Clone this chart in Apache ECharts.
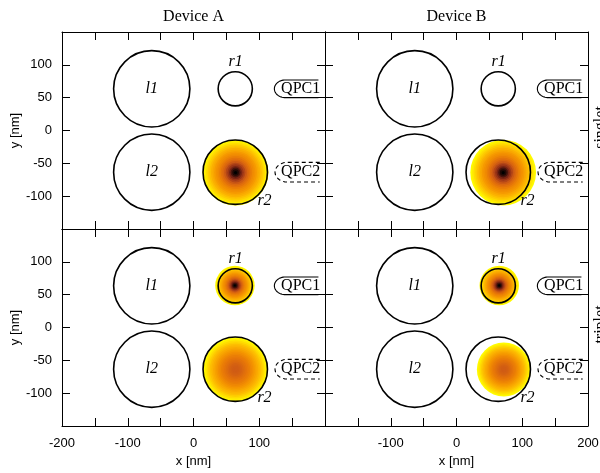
<!DOCTYPE html>
<html><head><meta charset="utf-8">
<script src="https://cdn.jsdelivr.net/npm/echarts@6/dist/echarts.min.js"></script>
<style>html,body{margin:0;padding:0;background:#fff}#chart{width:600px;height:473px}</style>
</head><body><div id="chart"></div>
<script>
// ---------- data ----------
const deviceTitles = ['Device A', 'Device B'];
const stateLabels = ['singlet', 'triplet'];
const xRange = [-200, 200];
const yRange = [-150, 150];
const tickStep = 50;
const labelStep = 100;

const dotNames = ['l1', 'l2', 'r1', 'r2'];
const dotX = [-63.5, -63.5, 63.5, 63.5];
const dotY = [63.5, -63.5, 63.5, -63.5];
const dotR = [58, 58, 26, 49];
const dotLabelX = [-63.5, -63.5, 64, 108];
const dotLabelY = [63.5, -63.5, 104, -107];

const qpcNames = ['QPC1', 'QPC2'];
const qpcY = [63.5, -63.5];
const qpcLeft = [123, 124];
const qpcRight = [190, 192];
const qpcHalfH = [13.5, 15];
const qpcTextX = [163, 163];
const qpcDashed = [0, 1];

// density blobs (panel: 0 top-left, 1 top-right, 2 bottom-left, 3 bottom-right)
const blobPanel = [0, 1, 2, 2, 3, 3];
const blobX = [64, 71, 63, 64, 65, 72];
const blobY = [-64, -64, 64, -64, 64, -64];
const blobR = [50, 50, 30, 49, 30, 41];
const blobProfile = [0, 0, 0, 1, 0, 1];
// radial profile: outer edge of each band (fraction of blob radius) and density in it
const bandEdge = [0.05, 0.1, 0.15, 0.2, 0.25, 0.3, 0.35, 0.4, 0.45, 0.5,
                  0.55, 0.6, 0.65, 0.7, 0.75, 0.8, 0.85, 0.9, 0.95, 1.0];
const peakedProfile = [1.0, 0.95, 0.88, 0.8, 0.73, 0.67, 0.61, 0.56, 0.52, 0.48,
                       0.44, 0.41, 0.38, 0.34, 0.31, 0.27, 0.23, 0.19, 0.15, 0.11];
const broadProfile = [0.6, 0.6, 0.59, 0.58, 0.56, 0.54, 0.52, 0.5, 0.48, 0.45,
                      0.42, 0.39, 0.36, 0.33, 0.3, 0.27, 0.23, 0.19, 0.15, 0.11];
const profiles = [peakedProfile, broadProfile];
const densityColors = ['#ffffe0', '#ffff00', '#ffd800', '#fcb400', '#f49400', '#e87808',
                       '#d05c14', '#a83c18', '#782414', '#3c100a', '#000000'];

// ---------- layout ----------
const gridLeft = [62, 325];
const gridTop = [32, 229];
const gridW = 263, gridH = 197;
const serif = '"Liberation Serif", "Times New Roman", serif';
const sans = '"Liberation Sans", Arial, sans-serif';

const grids = [], xAxes = [], yAxes = [], series = [], blobSeries = [];

function axisBase(extra) {
  return Object.assign({
    type: 'value',
    axisLine: { show: true, onZero: false, lineStyle: { color: '#000', width: 1 } },
    axisTick: { show: true, inside: true, length: 8, lineStyle: { color: '#000', width: 1 } },
    splitLine: { show: false },
    minorTick: { show: false }
  }, extra);
}

for (let p = 0; p < 4; p++) {
  const col = p % 2, row = p >> 1;
  grids.push({ left: gridLeft[col], top: gridTop[row], width: gridW, height: gridH,
               containLabel: false, outerBoundsMode: 'none' });
  const hideX = col === 0 ? xRange[1] : xRange[0];
  xAxes.push(axisBase({
    gridIndex: p, position: 'bottom', min: xRange[0], max: xRange[1], interval: tickStep,
    axisLabel: { show: row === 1, margin: 11, color: '#000', fontSize: 13, fontFamily: sans,
      formatter: v => (v % labelStep === 0 && v !== hideX) ? String(v) : '' },
    name: row === 1 ? 'x [nm]' : '', nameLocation: 'middle', nameGap: 29,
    nameTextStyle: { color: '#000', fontSize: 13, fontFamily: sans }
  }));
  xAxes.push(axisBase({
    gridIndex: p, position: 'top', min: xRange[0], max: xRange[1], interval: tickStep,
    axisLabel: { show: false }
  }));
  yAxes.push(axisBase({
    gridIndex: p, position: 'left', min: yRange[0], max: yRange[1], interval: tickStep,
    axisLabel: { show: col === 0, margin: 10, color: '#000', fontSize: 13, fontFamily: sans,
      formatter: v => (v === yRange[0] || v === yRange[1]) ? '' : String(v) },
    name: col === 0 ? 'y [nm]' : '', nameLocation: 'middle', nameGap: 37, nameRotate: 90,
    nameTextStyle: { color: '#000', fontSize: 13, fontFamily: sans }
  }));
  yAxes.push(axisBase({
    gridIndex: p, position: 'right', min: yRange[0], max: yRange[1], interval: tickStep,
    axisLabel: { show: false }
  }));

  const ax = { xAxisIndex: 2 * p, yAxisIndex: 2 * p };

  // density blobs as concentric bands (outer first)
  const blobData = [];
  for (let b = 0; b < blobPanel.length; b++) {
    if (blobPanel[b] !== p) continue;
    const prof = profiles[blobProfile[b]];
    for (let k = bandEdge.length - 1; k >= 0; k--) {
      blobData.push([blobX[b], blobY[b], blobR[b] * bandEdge[k], prof[k]]);
    }
  }
  if (blobData.length) {
    blobSeries.push(series.length);
    series.push(Object.assign({
      type: 'custom', data: blobData, encode: { x: 0, y: 1 }, silent: true, z: 1,
      renderItem: (params, api) => {
        const c = api.coord([api.value(0), api.value(1)]);
        const r = api.size([api.value(2), 0])[0];
        return { type: 'circle', shape: { cx: c[0], cy: c[1], r: r },
                 style: { fill: api.visual('color'), stroke: null } };
      }
    }, ax));
  }

  // dot outlines
  series.push(Object.assign({
    type: 'custom', z: 3, silent: true, encode: { x: 0, y: 1 },
    data: dotX.map((x, i) => [x, dotY[i], dotR[i]]),
    renderItem: (params, api) => {
      const c = api.coord([api.value(0), api.value(1)]);
      const r = api.size([api.value(2), 0])[0];
      return { type: 'circle', shape: { cx: c[0], cy: c[1], r: r },
               style: { fill: 'none', stroke: '#000', lineWidth: 1.6 } };
    }
  }, ax));

  // QPC outlines
  series.push(Object.assign({
    type: 'custom', z: 3, silent: true, encode: { x: [0, 1], y: 2 },
    data: qpcY.map((y, i) => [qpcLeft[i], qpcRight[i], y, qpcHalfH[i], qpcDashed[i]]),
    renderItem: (params, api) => {
      const xl = api.value(0), xr = api.value(1), cy = api.value(2), h = api.value(3);
      const a = h * 1.25;
      const pts = [api.coord([xr, cy + h])];
      for (let k = 0; k <= 30; k++) {
        const t = Math.PI / 2 + Math.PI * k / 30;
        pts.push(api.coord([xl + a + a * Math.cos(t), cy + h * Math.sin(t)]));
      }
      pts.push(api.coord([xr, cy - h]));
      return { type: 'polyline', shape: { points: pts },
               style: { fill: 'none', stroke: '#000', lineWidth: 1.1,
                        lineDash: api.value(4) ? [4, 3] : null } };
    }
  }, ax));

  // dot labels
  series.push(Object.assign({
    type: 'custom', z: 4, silent: true, encode: { x: 0, y: 1 },
    data: dotLabelX.map((x, i) => [x, dotLabelY[i], i]),
    renderItem: (params, api) => {
      const c = api.coord([api.value(0), api.value(1)]);
      return { type: 'text', x: c[0], y: c[1],
               style: { text: dotNames[api.value(2)], font: 'italic 16px ' + serif,
                        fill: '#000', align: 'center', verticalAlign: 'middle' } };
    }
  }, ax));

  // QPC labels
  series.push(Object.assign({
    type: 'custom', z: 4, silent: true, encode: { x: 0, y: 1 },
    data: qpcTextX.map((x, i) => [x, qpcY[i], i]),
    renderItem: (params, api) => {
      const c = api.coord([api.value(0), api.value(1)]);
      return { type: 'text', x: c[0], y: c[1],
               style: { text: qpcNames[api.value(2)], font: '16px ' + serif,
                        fill: '#000', align: 'center', verticalAlign: 'middle' } };
    }
  }, ax));
}

const graphics = [];
deviceTitles.forEach((t, i) => graphics.push({
  type: 'text', x: gridLeft[i] + gridW / 2, y: 17, silent: true,
  style: { text: t, font: '16px ' + serif, fill: '#000', align: 'center', verticalAlign: 'middle' }
}));
stateLabels.forEach((t, i) => graphics.push({
  type: 'text', x: 601, y: gridTop[i] + gridH / 2 - 3, rotation: Math.PI / 2, silent: true,
  style: { text: t, font: '16px ' + serif, fill: '#000', align: 'center', verticalAlign: 'middle' }
}));

const chart = echarts.init(document.getElementById('chart'), null, { renderer: 'canvas' });
chart.setOption({
  animation: false,
  backgroundColor: '#fff',
  grid: grids,
  xAxis: xAxes,
  yAxis: yAxes,
  visualMap: [{
    type: 'continuous', show: false, min: 0, max: 1, dimension: 3,
    seriesIndex: blobSeries, inRange: { color: densityColors }
  }],
  graphic: graphics,
  series: series
});
</script>
</body></html>
